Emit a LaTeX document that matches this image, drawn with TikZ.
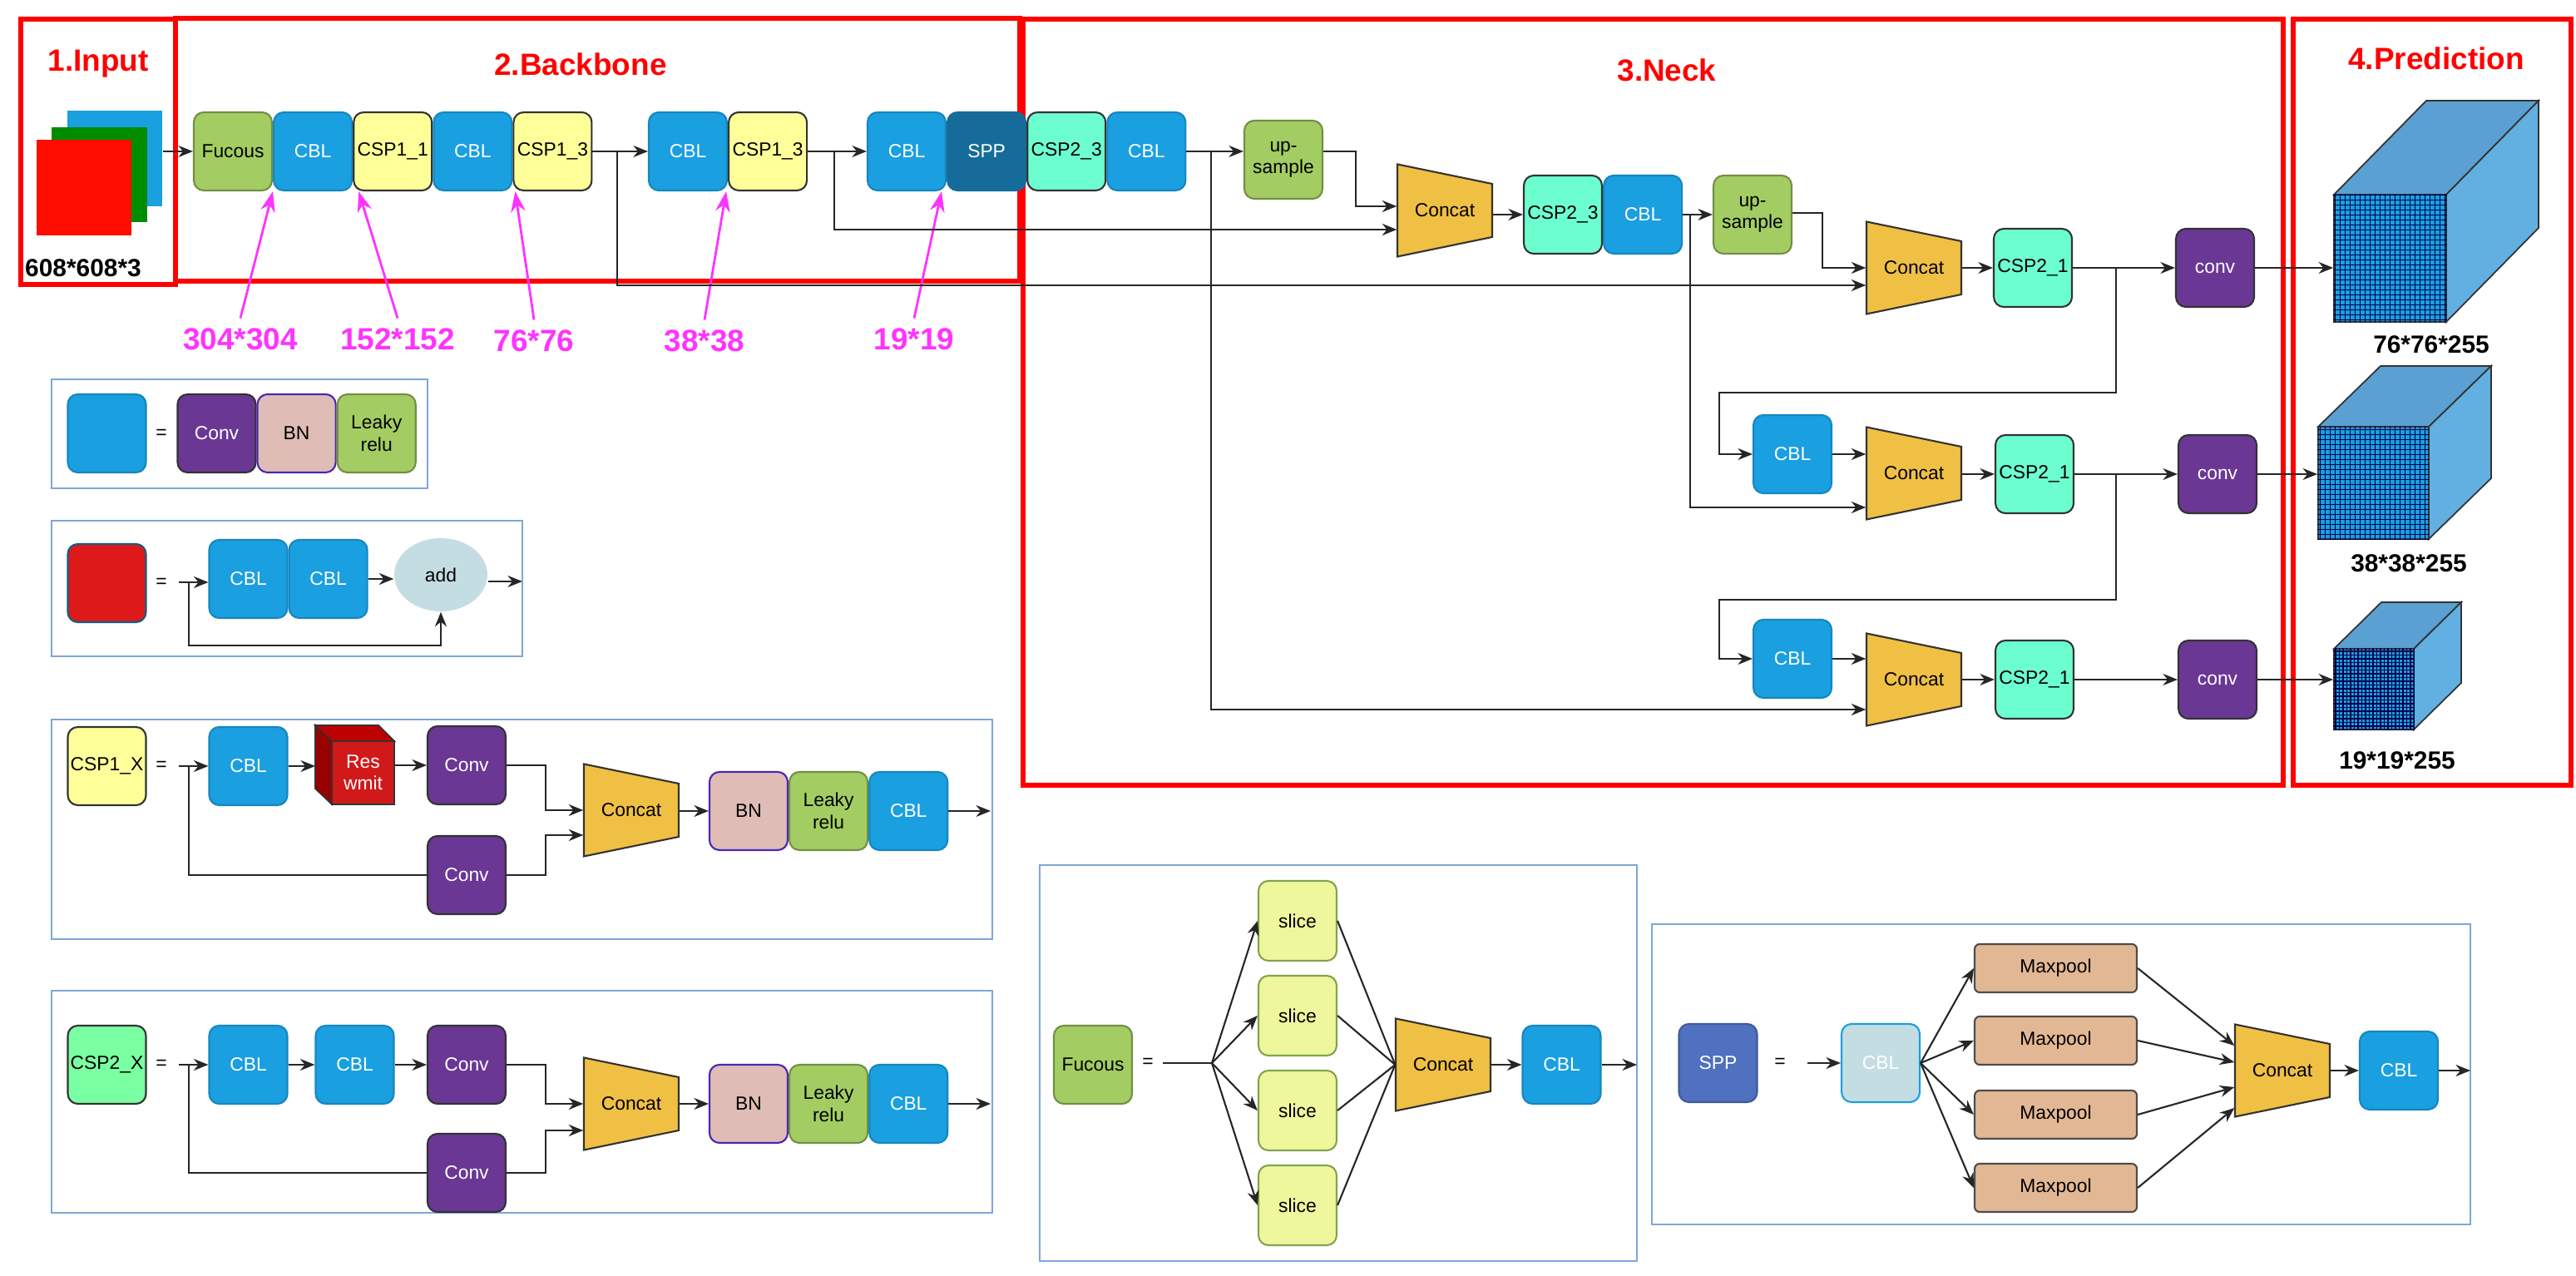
\documentclass[tikz,border=0pt]{standalone}
\usepackage{fontspec}
\setmainfont{Liberation Sans}
\usetikzlibrary{positioning,arrows.meta,shapes.geometric}

\definecolor{cblc}{HTML}{1A9FE0}
\definecolor{cspy}{HTML}{FFFF99}
\definecolor{cspg}{HTML}{6CFECF}
\definecolor{fuc}{HTML}{A3CD62}
\definecolor{sppc}{HTML}{156C9A}
\definecolor{convc}{HTML}{6A3795}
\definecolor{bnc}{HTML}{DFBCB5}
\definecolor{slc}{HTML}{EEF79C}
\definecolor{mpc}{HTML}{E2B894}
\definecolor{catc}{HTML}{F0C044}
\definecolor{addc}{HTML}{C4DDE3}
\definecolor{legc}{HTML}{7EA6D8}
\definecolor{magc}{HTML}{FF33FF}
\definecolor{cubet}{HTML}{5AA0D2}
\definecolor{cubes}{HTML}{62AFE2}
\definecolor{sppk}{HTML}{5070C0}

\tikzset{
  blk/.style={rounded corners=0.12cm, minimum width=0.94cm, minimum height=0.94cm, inner sep=0pt, align=center, font=\fontsize{6.5}{7.5}\selectfont, line width=0.6pt},
  cbl/.style={blk, fill=cblc, draw=cblc!85!black, text=white},
  csp1/.style={blk, fill=cspy, draw=black!80},
  csp2/.style={blk, fill=cspg, draw=black!80},
  fucous/.style={blk, fill=fuc, draw=fuc!70!black},
  spp/.style={blk, fill=sppc, draw=sppc, text=white},
  conv/.style={blk, fill=convc, draw=black!80, text=white},
  bn/.style={blk, fill=bnc, draw=convc!70!blue},
  slice/.style={blk, fill=slc, draw=fuc!80!black},
  maxp/.style={blk, minimum width=1.95cm, minimum height=0.58cm, rounded corners=0.06cm, fill=mpc, draw=black!70},
  catshape/.style={fill=catc, draw=black!80, line width=0.6pt},
  catnode/.style={minimum width=1.14cm, minimum height=1.11cm, inner sep=0pt, font=\fontsize{6.5}{7.5}\selectfont},
  frame/.style={draw=red, line width=1.8pt},
  legbox/.style={draw=legc, line width=0.8pt},
  title/.style={text=red, font=\fontsize{10.5}{12}\selectfont\bfseries},
  size/.style={text=magc, font=\fontsize{10.5}{12}\selectfont\bfseries},
  dim/.style={font=\fontsize{8.5}{10}\selectfont\bfseries},
  eq/.style={font=\fontsize{6.5}{7.5}\selectfont},
  line/.style={draw=black!85, line width=0.6pt},
  arr/.style={line, -{Stealth[length=5pt,width=4pt]}},
  pink/.style={draw=magc, line width=0.8pt, -{Stealth[length=7pt,width=5pt]}},
  topf/.style={fill=cubet, draw=black!80, line width=0.5pt},
  sidef/.style={fill=cubes, draw=black!80, line width=0.5pt},
  frontf/.style={fill=cblc, draw=black!80, line width=0.5pt},
  gridl/.style={draw=black!70!blue, line width=0.25pt}
}

\newcommand{\catblock}[2]{%
  \filldraw[catshape, shift={(#2)}] (-0.57,0.555) -- (0.57,0.32) -- (0.57,-0.32) -- (-0.57,-0.555) -- cycle;
  \node[catnode] (#1) at (#2) {Concat};}

\begin{document}
\begin{tikzpicture}
\useasboundingbox (0,0) rectangle (30.97,-15.34);

% frames
\draw[frame] (0.25,-0.23) rectangle (2.11,-3.42);
\draw[frame] (2.11,-0.22) rectangle (12.26,-3.38);
\draw[frame] (12.30,-0.23) rectangle (27.45,-9.44);
\draw[frame] (27.57,-0.23) rectangle (30.91,-9.44);
\node[title] (tIn) at (1.18,-0.77) {1.Input};
\node[title] (tBack) at (6.98,-0.77) {2.Backbone};
\node[title] (tNeck) at (20.04,-0.84) {3.Neck};
\node[title] (tPred) at (29.29,-0.70) {4.Prediction};

% input image
\node[minimum width=1.14cm, minimum height=1.15cm, fill=cblc] (imgB) at (1.38,-1.905) {};
\node[minimum width=1.15cm, minimum height=1.14cm, fill=green!55!black] (imgG) at (1.195,-2.10) {};
\node[minimum width=1.14cm, minimum height=1.15cm, fill=red!90!orange] (imgR) at (1.01,-2.255) {};
\node[dim] (inDim) at (1.00,-3.22) {608*608*3};

% backbone
\node[fucous] (fucous) at (2.80,-1.82) {Fucous};
\node[cbl, right=0pt of fucous] (cbla) {CBL};
\node[csp1, right=0pt of cbla] (csp11) {CSP1\_1};
\node[cbl, right=0pt of csp11] (cblb) {CBL};
\node[csp1, right=0pt of cblb] (csp13a) {CSP1\_3};
\node[cbl] (cblc) at (8.27,-1.82) {CBL};
\node[csp1, right=0pt of cblc] (csp13b) {CSP1\_3};
\node[cbl] (cbld) at (10.90,-1.82) {CBL};
\node[spp, right=0pt of cbld] (sppa) {SPP};
\node[csp2, right=0pt of sppa] (csp23a) {CSP2\_3};
\node[cbl, right=0pt of csp23a] (cble) {CBL};

\draw[arr] (imgB.east |- fucous) -- (fucous.west);
\draw[arr] (csp13a.east) -- (cblc.west);
\draw[arr] (csp13b.east) -- (cbld.west);
\coordinate (br1) at (7.42,-1.82);
\coordinate (br2) at (10.03,-1.82);
\coordinate (br3) at (14.56,-1.82);

% feature sizes
\node[size] (s304) at (2.89,-4.08) {304*304};
\node[size] (s152) at (4.78,-4.08) {152*152};
\node[size] (s76) at (6.42,-4.10) {76*76};
\node[size] (s38) at (8.47,-4.10) {38*38};
\node[size] (s19) at (10.99,-4.08) {19*19};
\draw[pink] (s304.north) -- (fucous.south east);
\draw[pink] (s152.north) -- ([xshift=0.07cm]csp11.south west);
\draw[pink] (s76.north) -- ([xshift=0.03cm]csp13a.south west);
\draw[pink] (s38.north) -- ([xshift=-0.02cm]cblc.south east);
\draw[pink] (s19.north) -- ([xshift=-0.06cm]cbld.south east);

% neck
\node[fucous] (up1) at (15.43,-1.92) {up-\\sample};
\catblock{catA}{17.37,-2.53}
\node[csp2] (csp23b) at (18.79,-2.58) {CSP2\_3};
\node[cbl, right=0pt of csp23b] (cblf) {CBL};
\node[fucous] (up2) at (21.07,-2.58) {up-\\sample};
\catblock{catB}{23.01,-3.22}
\node[csp2] (csp21a) at (24.44,-3.22) {CSP2\_1};
\node[conv] (convA) at (26.63,-3.22) {conv};
\node[cbl] (cblg) at (21.55,-5.46) {CBL};
\catblock{catC}{23.01,-5.69}
\node[csp2] (csp21b) at (24.46,-5.70) {CSP2\_1};
\node[conv] (convB) at (26.66,-5.70) {conv};
\node[cbl] (cblh) at (21.55,-7.92) {CBL};
\catblock{catD}{23.01,-8.17}
\node[csp2] (csp21c) at (24.46,-8.17) {CSP2\_1};
\node[conv] (convC) at (26.66,-8.17) {conv};

\draw[arr] (cble.east) -- (cble.east -| up1.west);
\draw[arr] (up1.east |- cble) -- ++(0.39,0) |- ([yshift=0.05cm]catA.west);
\draw[arr] (br2) |- ([yshift=-0.23cm]catA.west);
\draw[arr] (catA.east |- csp23b) -- (csp23b.west);
\draw[arr] (cblf.east) -- (up2.west);
\draw[arr] (up2.east |- 0,-2.56) -- ++(0.36,0) |- (catB.west);
\draw[arr] (br1) |- ([yshift=-0.21cm]catB.west);
\draw[arr] (catB.east) -- (csp21a.west);
\draw[arr] (csp21a.east) -- (convA.west);
\coordinate (brf) at (20.32,-2.58);
\draw[arr] (brf) |- ([yshift=-0.41cm]catC.west);
\draw[arr] (br3) |- ([yshift=-0.36cm]catD.west);
\coordinate (brA) at (25.44,-3.22);
\coordinate (tA) at (20.67,-4.72);
\draw[arr] (brA) |- (tA) |- (cblg.west);
\draw[arr] (cblg.east) -- (cblg.east -| catC.west);
\draw[arr] (catC.east |- csp21b) -- (csp21b.west);
\draw[arr] (csp21b.east) -- (convB.west);
\coordinate (brB) at (25.44,-5.70);
\coordinate (tB) at (20.67,-7.21);
\draw[arr] (brB) |- (tB) |- (cblh.west);
\draw[arr] (cblh.east) -- (cblh.east -| catD.west);
\draw[arr] (catD.east) -- (csp21c.west);
\draw[arr] (csp21c.east) -- (convC.west);

% prediction cubes
\filldraw[topf] (28.06,-2.34) -- (29.17,-1.21) -- (30.52,-1.21) -- (29.41,-2.34) -- cycle;
\filldraw[sidef] (29.41,-2.34) -- (30.52,-1.21) -- (30.52,-2.74) -- (29.41,-3.87) -- cycle;
\node[frontf, minimum width=1.35cm, minimum height=1.53cm, inner sep=0pt] (cubeA) at (28.735,-3.105) {};
\draw[gridl, step=0.06] (cubeA.south west) grid (cubeA.north east);
\filldraw[topf] (27.87,-5.13) -- (28.62,-4.40) -- (29.95,-4.40) -- (29.20,-5.13) -- cycle;
\filldraw[sidef] (29.20,-5.13) -- (29.95,-4.40) -- (29.95,-5.75) -- (29.20,-6.48) -- cycle;
\node[frontf, minimum width=1.33cm, minimum height=1.35cm, inner sep=0pt] (cubeB) at (28.535,-5.805) {};
\draw[gridl, step=0.06] (cubeB.south west) grid (cubeB.north east);
\filldraw[topf] (28.06,-7.80) -- (28.63,-7.24) -- (29.59,-7.24) -- (29.02,-7.80) -- cycle;
\filldraw[sidef] (29.02,-7.80) -- (29.59,-7.24) -- (29.59,-8.21) -- (29.02,-8.77) -- cycle;
\node[frontf, minimum width=0.96cm, minimum height=0.97cm, inner sep=0pt] (cubeC) at (28.54,-8.285) {};
\draw[gridl, line width=0.4pt, step=0.045] (cubeC.south west) grid (cubeC.north east);
\node[dim] (dA) at (29.23,-4.14) {76*76*255};
\node[dim] (dB) at (28.96,-6.77) {38*38*255};
\node[dim] (dC) at (28.82,-9.14) {19*19*255};
\draw[arr] (convA.east) -- (convA.east -| cubeA.west);
\draw[arr] (convB.east) -- (convB.east -| cubeB.west);
\draw[arr] (convC.east) -- (convC.east -| cubeC.west);

% legend: CBL
\draw[legbox] (0.62,-4.56) rectangle (5.14,-5.87);
\node[cbl, minimum height=0.94cm] (keyCbl) at (1.285,-5.21) {};
\node[eq] (eqA) at (1.94,-5.22) {=};
\node[conv] (lgConv) at (2.605,-5.21) {Conv};
\node[bn, right=0pt of lgConv] (lgBn) {BN};
\node[fucous, right=0pt of lgBn] (lgLeaky) {Leaky\\relu};

% legend: Res unit
\draw[legbox] (0.62,-6.26) rectangle (6.28,-7.89);
\node[blk, fill=red!85!black!90, draw=cblc!60!black] (keyRes) at (1.285,-7.01) {};
\node[eq] (eqB) at (1.94,-7.01) {=};
\node[cbl] (resCbl1) at (2.985,-6.96) {CBL};
\node[cbl, right=0pt of resCbl1] (resCbl2) {CBL};
\node[ellipse, fill=addc, minimum width=1.12cm, minimum height=0.88cm, inner sep=0pt, font=\fontsize{6.5}{7.5}\selectfont] (add) at (5.30,-6.91) {add};
\coordinate (resIn) at (2.15,-7.00);
\coordinate (resTap) at (2.27,-7.00);
\coordinate (resOut) at (6.28,-6.99);
\draw[arr] (resIn) -- (resIn -| resCbl1.west);
\draw[arr] (resCbl2.east) -- (resCbl2.east -| add.west);
\draw[arr] (add.east |- resOut) -- (resOut);
\draw[arr] (resTap) |- (add.south |- 0,-7.76) -- (add.south);

% legend: CSP1_X
\draw[legbox] (0.62,-8.65) rectangle (11.93,-11.29);
\node[csp1] (keyCspA) at (1.285,-9.21) {CSP1\_X};
\node[eq] (eqC) at (1.94,-9.21) {=};
\coordinate (c1In) at (2.15,-9.21);
\coordinate (c1Tap) at (2.27,-9.21);
\node[cbl] (c1Cbl) at (2.985,-9.21) {CBL};
\filldraw[fill=red!75!black, draw=black!80, line width=0.5pt] (3.79,-8.72) -- (4.55,-8.72) -- (4.74,-8.91) -- (3.99,-8.91) -- cycle;
\filldraw[fill=red!60!black, draw=black!80, line width=0.5pt] (3.79,-8.72) -- (3.99,-8.91) -- (3.99,-9.67) -- (3.79,-9.48) -- cycle;
\node[fill=red!80!black!90, draw=black!80, line width=0.5pt, minimum width=0.75cm, minimum height=0.76cm, inner sep=0pt, text=white, align=center, font=\fontsize{6.5}{7.5}\selectfont] (resU) at (4.365,-9.29) {Res\\wmit};
\node[conv] (c1Conv1) at (5.61,-9.20) {Conv};
\node[conv] (c1Conv2) at (5.61,-10.52) {Conv};
\catblock{c1Cat}{7.59,-9.74}
\node[bn] (c1Bn) at (9.00,-9.75) {BN};
\node[fucous, right=0pt of c1Bn] (c1Leaky) {Leaky\\relu};
\node[cbl, right=0pt of c1Leaky] (c1Cbl2) {CBL};
\coordinate (c1Out) at (11.91,-9.75);
\draw[arr] (c1In) -- (c1In -| c1Cbl.west);
\draw[arr] (c1Cbl.east) -- (3.79,-9.21);
\draw[arr] (resU.east |- c1Conv1) -- (c1Conv1.west);
\draw[arr] (c1Conv1.east) -- ++(0.47,0) |- (c1Cat.west);
\draw[arr] (c1Conv2.east) -- ++(0.47,0) |- ([yshift=-0.30cm]c1Cat.west);
\draw[line] (c1Tap) |- (c1Conv2.west);
\draw[arr] (c1Cat.east |- c1Bn) -- (c1Bn.west);
\draw[arr] (c1Cbl2.east) -- (c1Out);

% legend: CSP2_X
\draw[legbox] (0.62,-11.91) rectangle (11.93,-14.58);
\node[csp2, fill=cspg!60!green!70!white] (keyCspB) at (1.285,-12.80) {CSP2\_X};
\node[eq] (eqD) at (1.94,-12.80) {=};
\coordinate (c2In) at (2.15,-12.80);
\coordinate (c2Tap) at (2.27,-12.80);
\node[cbl] (c2Cbl1) at (2.985,-12.80) {CBL};
\node[cbl] (c2Cbl2) at (4.265,-12.80) {CBL};
\node[conv] (c2Conv1) at (5.61,-12.80) {Conv};
\node[conv] (c2Conv2) at (5.61,-14.10) {Conv};
\catblock{c2Cat}{7.59,-13.27}
\node[bn] (c2Bn) at (9.00,-13.27) {BN};
\node[fucous, right=0pt of c2Bn] (c2Leaky) {Leaky\\relu};
\node[cbl, right=0pt of c2Leaky] (c2Cbl3) {CBL};
\coordinate (c2Out) at (11.91,-13.27);
\draw[arr] (c2In) -- (c2In -| c2Cbl1.west);
\draw[arr] (c2Cbl1.east) -- (c2Cbl2.west);
\draw[arr] (c2Cbl2.east) -- (c2Conv1.west);
\draw[arr] (c2Conv1.east) -- ++(0.47,0) |- (c2Cat.west);
\draw[arr] (c2Conv2.east) -- ++(0.47,0) |- ([yshift=-0.32cm]c2Cat.west);
\draw[line] (c2Tap) |- (c2Conv2.west);
\draw[arr] (c2Cat.east) -- (c2Bn.west);
\draw[arr] (c2Cbl3.east) -- (c2Out);

% legend: Fucous
\draw[legbox] (12.50,-10.40) rectangle (19.68,-15.16);
\node[fucous] (keyFuc) at (13.14,-12.80) {Fucous};
\node[eq] (eqE) at (13.80,-12.78) {=};
\coordinate (fIn) at (13.98,-12.78);
\coordinate (fSplit) at (14.57,-12.78);
\draw[line] (fIn) -- (fSplit);
\foreach \n/\y in {1/-11.07, 2/-12.21, 3/-13.35, 4/-14.49} {
  \node[slice, minimum height=0.96cm] (slice\n) at (15.60,\y) {slice};
  \draw[arr] (fSplit) -- (slice\n.west);
}
\catblock{fCat}{17.35,-12.80}
\foreach \n in {1,...,4} \draw[line] (slice\n.east) -- (fCat.west);
\node[cbl] (fCbl) at (18.775,-12.80) {CBL};
\coordinate (fOut) at (19.68,-12.80);
\draw[arr] (fCat.east) -- (fCbl.west);
\draw[arr] (fCbl.east) -- (fOut);

% legend: SPP
\draw[legbox] (19.86,-11.11) rectangle (29.70,-14.72);
\node[blk, fill=sppk, draw=sppk!80!black, text=white] (keySpp) at (20.655,-12.78) {SPP};
\node[eq] (eqF) at (21.40,-12.78) {=};
\coordinate (sIn) at (21.73,-12.78);
\node[blk, fill=addc, draw=cblc, text=white] (sCbl) at (22.61,-12.78) {CBL};
\draw[arr] (sIn) -- (sCbl.west);
\catblock{sCat}{27.44,-12.87}
\foreach \n/\y/\s in {1/-11.64/0.30, 2/-12.51/0.10, 3/-13.40/-0.20, 4/-14.28/-0.45} {
  \node[maxp] (mp\n) at (24.715,\y) {Maxpool};
  \draw[arr] (sCbl.east) -- (mp\n.west);
  \draw[arr] (mp\n.east) -- ([yshift=\s cm]sCat.west);
}
\node[cbl] (sCbl2) at (28.84,-12.87) {CBL};
\coordinate (sOut) at (29.70,-12.87);
\draw[arr] (sCat.east) -- (sCbl2.west);
\draw[arr] (sCbl2.east) -- (sOut);
\end{tikzpicture}
\end{document}
